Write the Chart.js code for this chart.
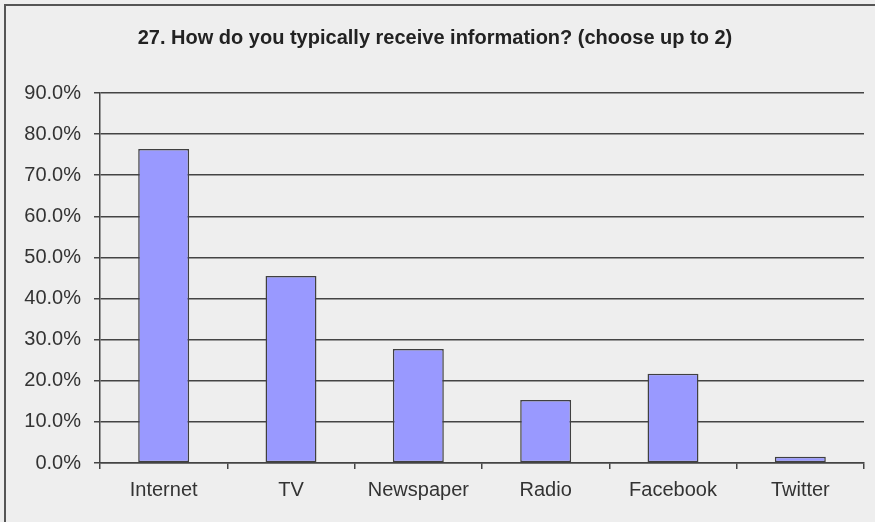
<!DOCTYPE html>
<html>
<head>
<meta charset="utf-8">
<title>Information sources</title>
<script src="https://cdn.jsdelivr.net/npm/chart.js@4.4.0/dist/chart.umd.min.js"></script>
<style>
    html, body { margin: 0; padding: 0; background: #eeeeee; }
    #chart { display: block; }
</style>
</head>
<body>
<canvas id="chart" width="875" height="522"></canvas>
<script>
// Survey data
const categories = ['Internet', 'TV', 'Newspaper', 'Radio', 'Facebook', 'Twitter'];
const percentValues = [76.4, 45.5, 27.7, 15.3, 21.7, 1.5];
const yTickValues = [0, 10, 20, 30, 40, 50, 60, 70, 80, 90];
const chartTitle = '27. How do you typically receive information? (choose up to 2)';

const FONT = "'Liberation Sans', Arial, sans-serif";
const LINE = '#444444';
const TEXT = '#333333';

// Background and the top/left frame lines
const framePlugin = {
    id: 'frame',
    beforeDraw(chart) {
        const ctx = chart.ctx;
        ctx.save();
        ctx.fillStyle = '#eeeeee';
        ctx.fillRect(0, 0, chart.width, chart.height);
        ctx.strokeStyle = '#555555';
        ctx.lineWidth = 2;
        ctx.beginPath();
        ctx.moveTo(5, chart.height);
        ctx.lineTo(5, 5);
        ctx.lineTo(chart.width, 5);
        ctx.stroke();
        ctx.restore();
    }
};

const ctx = document.getElementById('chart').getContext('2d');
new Chart(ctx, {
    type: 'bar',
    data: {
        labels: categories,
        datasets: [{
            data: percentValues,
            backgroundColor: '#9999ff',
            borderColor: '#404040',
            borderWidth: 1.5,
            borderSkipped: false,
            barPercentage: 0.4,
            categoryPercentage: 1.0
        }]
    },
    options: {
        responsive: false,
        animation: false,
        layout: { padding: { left: 6, right: 11, top: 0, bottom: 0 } },
        plugins: {
            legend: { display: false },
            tooltip: { enabled: false },
            title: {
                display: true,
                text: chartTitle,
                color: '#222222',
                font: { family: FONT, size: 20, weight: 'bold', lineHeight: 1.2 },
                padding: { top: 26, bottom: 43 }
            }
        },
        scales: {
            x: {
                grid: {
                    offset: true,
                    drawOnChartArea: false,
                    drawTicks: true,
                    tickLength: 6,
                    color: LINE,
                    lineWidth: 1.5
                },
                border: { display: true, color: LINE, width: 1.5 },
                ticks: {
                    color: TEXT,
                    padding: 9,
                    font: { family: FONT, size: 20 }
                },
                afterFit(scale) { scale.height = 59; }
            },
            y: {
                min: 0,
                max: 90,
                afterBuildTicks(scale) {
                    scale.ticks = yTickValues.map(v => ({ value: v }));
                },
                grid: {
                    color: LINE,
                    lineWidth: 1.5,
                    drawTicks: true,
                    tickLength: 6
                },
                border: { display: true, color: LINE, width: 1.5 },
                ticks: {
                    color: TEXT,
                    padding: 13,
                    font: { family: FONT, size: 20 },
                    callback: v => v.toFixed(1) + '%'
                },
                afterFit(scale) { scale.width = 94; }
            }
        }
    },
    plugins: [framePlugin]
});
</script>
</body>
</html>
